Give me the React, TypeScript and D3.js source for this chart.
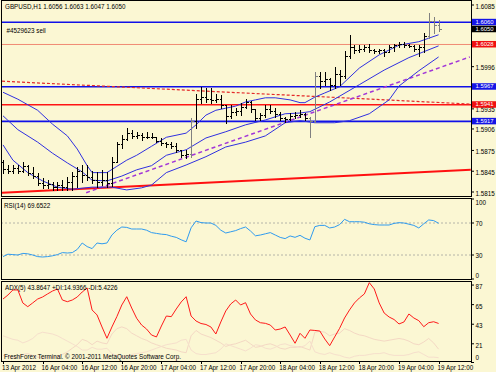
import { scaleLinear, line } from 'd3'

// GBPUSD H1 bars, index 0..88
const opens = [
	1.5858, 1.5848, 1.5846, 1.585, 1.5845, 1.5852, 1.5843, 1.5838, 1.5828, 1.5825,
	1.5826, 1.5822, 1.5825, 1.5822, 1.583, 1.5838, 1.5845, 1.584, 1.5836, 1.5833,
	1.583, 1.5832, 1.5828, 1.5858, 1.5884, 1.5892, 1.59, 1.5896, 1.5897, 1.5894,
	1.5895, 1.5894, 1.5889, 1.5886, 1.5884, 1.5882, 1.5876, 1.5868, 1.587, 1.5918,
	1.595, 1.5952, 1.595, 1.5948, 1.595, 1.594, 1.5925, 1.593, 1.5932, 1.5938,
	1.5945, 1.5935, 1.5922, 1.5926, 1.5935, 1.5932, 1.5928, 1.5922, 1.592, 1.5925,
	1.5926, 1.5928, 1.5922, 1.5918, 1.5982, 1.5975, 1.5978, 1.597, 1.5985, 1.5982,
	1.6012, 1.6025, 1.602, 1.6022, 1.6024, 1.602, 1.6018, 1.602, 1.6017, 1.6024,
	1.6027, 1.6028, 1.6027, 1.6026, 1.6022, 1.6024, 1.604, 1.6062, 1.6056,
]
const highs = [
	1.5861, 1.5854, 1.5854, 1.5854, 1.5858, 1.5854, 1.5851, 1.5842, 1.5835, 1.5832,
	1.583, 1.583, 1.5832, 1.5837, 1.5844, 1.5851, 1.5854, 1.5854, 1.5845, 1.5844,
	1.5847, 1.5844, 1.5865, 1.5887, 1.5897, 1.5907, 1.5904, 1.5901, 1.59, 1.5901,
	1.59, 1.5894, 1.5893, 1.5887, 1.5887, 1.5886, 1.5876, 1.5876, 1.5922, 1.5957,
	1.5966, 1.5965, 1.5965, 1.5957, 1.5955, 1.594, 1.594, 1.5936, 1.5943, 1.595,
	1.5947, 1.5935, 1.5929, 1.594, 1.594, 1.5937, 1.593, 1.5923, 1.5929, 1.593,
	1.5933, 1.5929, 1.5923, 1.5988, 1.5988, 1.5988, 1.598, 1.5995, 1.5991, 1.6019,
	1.6041, 1.6027, 1.6027, 1.6027, 1.6029, 1.6022, 1.6022, 1.6022, 1.6027, 1.6029,
	1.6031, 1.6031, 1.6029, 1.6027, 1.6027, 1.6045, 1.6074, 1.6067, 1.6063,
]
const lows = [
	1.5842, 1.5842, 1.5842, 1.5842, 1.5844, 1.584, 1.5835, 1.5825, 1.5821, 1.5821,
	1.5818, 1.5818, 1.5818, 1.5818, 1.5818, 1.5822, 1.583, 1.5832, 1.5828, 1.5822,
	1.5825, 1.5822, 1.5824, 1.5858, 1.5878, 1.589, 1.5893, 1.5893, 1.589, 1.5893,
	1.5893, 1.5887, 1.5883, 1.588, 1.5878, 1.5873, 1.5865, 1.5864, 1.5865, 1.5907,
	1.5943, 1.5945, 1.5943, 1.5945, 1.5936, 1.5914, 1.5922, 1.5926, 1.5926, 1.5936,
	1.593, 1.5919, 1.5919, 1.5923, 1.5929, 1.5923, 1.5919, 1.5916, 1.5919, 1.5922,
	1.5923, 1.5919, 1.5894, 1.5916, 1.5965, 1.5969, 1.5962, 1.5965, 1.5969, 1.598,
	1.6009, 1.6015, 1.6017, 1.6019, 1.6017, 1.6015, 1.6015, 1.6012, 1.6017, 1.6019,
	1.6024, 1.6024, 1.6024, 1.6019, 1.6012, 1.6017, 1.6038, 1.6044, 1.6047,
]
const closes = [
	1.5848, 1.5846, 1.585, 1.5845, 1.5852, 1.5843, 1.5838, 1.5828, 1.5825, 1.5826,
	1.5822, 1.5825, 1.5822, 1.583, 1.5838, 1.5845, 1.584, 1.5836, 1.5833, 1.583,
	1.5832, 1.5828, 1.5858, 1.5884, 1.5892, 1.59, 1.5896, 1.5897, 1.5894, 1.5895,
	1.5894, 1.5889, 1.5886, 1.5884, 1.5882, 1.5876, 1.5868, 1.587, 1.5918, 1.595,
	1.5952, 1.595, 1.5948, 1.595, 1.594, 1.5925, 1.593, 1.5932, 1.5938, 1.5945,
	1.5935, 1.5922, 1.5926, 1.5935, 1.5932, 1.5928, 1.5922, 1.592, 1.5925, 1.5926,
	1.5928, 1.5922, 1.5918, 1.5982, 1.5975, 1.5978, 1.597, 1.5985, 1.5982, 1.6012,
	1.6025, 1.602, 1.6022, 1.6024, 1.602, 1.6018, 1.602, 1.6017, 1.6024, 1.6027,
	1.6028, 1.6027, 1.6026, 1.6022, 1.6024, 1.604, 1.6062, 1.6056, 1.605,
]
const greyBars = [38, 62, 63, 86, 87, 88]

const maFast: [number, number][] = [
	[0, 1.5959], [3, 1.5949], [7, 1.5933], [10, 1.5913], [13, 1.5896], [15, 1.5877], [17, 1.5853],
	[18, 1.5843], [21, 1.5843], [23, 1.5852], [25, 1.5861], [27, 1.5868], [30, 1.5881], [33, 1.5894],
	[37, 1.59], [39, 1.5912], [41, 1.5926], [43, 1.5933], [45, 1.5936], [47, 1.5939], [49, 1.5945],
	[51, 1.5948], [53, 1.5951], [55, 1.5951], [58, 1.5948], [60, 1.5944], [61, 1.5944], [63, 1.5952],
	[65, 1.5958], [68, 1.5967], [72, 1.5994], [76, 1.6013], [80, 1.6027], [84, 1.6032], [86, 1.6037],
	[88, 1.6042],
]
const maMid: [number, number][] = [
	[0, 1.5925], [3, 1.5905], [7, 1.5887], [10, 1.5871], [13, 1.5857], [16, 1.5844], [18, 1.5832],
	[21, 1.5831], [24, 1.5838], [27, 1.5847], [30, 1.5853], [33, 1.5868], [37, 1.5876], [41, 1.5893],
	[45, 1.5902], [49, 1.5912], [53, 1.5919], [57, 1.5928], [60, 1.5929], [62, 1.5931], [66, 1.5945],
	[72, 1.597], [77, 1.5991], [82, 1.6009], [88, 1.6026],
]
const maSlow: [number, number][] = [
	[0, 1.5883], [2, 1.5861], [5, 1.5843], [8, 1.5831], [11, 1.5822], [14, 1.5819], [18, 1.5822],
	[22, 1.5822], [25, 1.5818], [28, 1.5821], [30, 1.5825], [33, 1.5843], [37, 1.5854], [41, 1.5866],
	[45, 1.588], [49, 1.5887], [53, 1.5896], [57, 1.5915], [60, 1.5918], [63, 1.5915], [67, 1.5915],
	[70, 1.5918], [74, 1.5928], [78, 1.5948], [80, 1.5968], [84, 1.599], [88, 1.601],
]

// trendlines: [bar1, price1, bar2, price2]
const supportLine = [-0.2, 1.5814, 94.5, 1.5847]
const resistanceLine = [-0.2, 1.5975, 94.5, 1.5942]
const channelLine = [16.8, 1.5814, 94.3, 1.601]

const blueLevels = [1.606, 1.5967, 1.5917]
const orderLevel = 1.6028
const redLevel = 1.5941

const priceTicks = [1.6085, 1.5996, 1.5935, 1.5906, 1.5875, 1.5845, 1.5815]
const priceBoxes = [
	{ value: 1.606, label: '1.6060', fill: '#1414e6' },
	{ value: 1.605, label: '1.6050', fill: '#000000' },
	{ value: 1.6028, label: '1.6028', fill: '#f01010' },
	{ value: 1.5967, label: '1.5967', fill: '#1414e6' },
	{ value: 1.5941, label: '1.5941', fill: '#f01010' },
	{ value: 1.5917, label: '1.5917', fill: '#1414e6' },
]

const rsi = [
	28, 31, 30.5, 30, 32, 31.5, 30, 28, 27.5, 28,
	29, 30.5, 33, 32.5, 33, 37, 45, 40.5, 38, 45,
	44, 45, 55, 61, 65, 64.5, 62.5, 62.5, 62.5, 61,
	58, 57, 56, 55.5, 53.5, 52, 49, 46.5, 64, 72.5,
	70.5, 70, 70, 67, 61, 57.5, 59, 60.5, 63, 65,
	60, 54, 55, 56.5, 58, 55, 52, 50.5, 53.8, 52.1,
	54.6, 51, 48.8, 65.4, 67, 67, 63.8, 65, 68, 74.6,
	71.6, 71.6, 71.6, 71, 69, 68, 67.5, 67.5, 67.5, 69.5,
	70.4, 70, 68.5, 67, 63.8, 69, 73.8, 73, 69.65,
]
const rsiLevels = [70, 30]
const rsiTicks = [100, 70, 30, 0]

const adx = [
	71.3, 75.8, 81.5, 81.5, 66.9, 62.7, 66.9, 71.3, 73.6, 77,
	80.3, 82.6, 70.2, 68.3, 70.2, 73.6, 79.2, 83.7, 59, 53.4,
	39.9, 27.2, 39.9, 51.5, 64.6, 73.9, 61.2, 49.7, 42.1, 37.6,
	30.9, 28.7, 41, 52.2, 51.5, 60.1, 68, 73.9, 52.2, 46.6,
	43.8, 42.7, 39.9, 32, 45.5, 57.9, 65.7, 70.2, 64.6, 67.2,
	54.5, 47.8, 44.7, 44, 42.1, 36.5, 37.6, 39.9, 30.9, 21.6,
	32.8, 27.2, 36.5, 36, 35.4, 26.4, 18.9, 28.7, 38.4, 50,
	59, 66.9, 72.5, 77, 89.7, 82.6, 66.9, 55.6, 51.1, 48.3,
	43.3, 45.5, 54.5, 50, 47, 40.2, 44.7, 45.8, 43.86,
]
const plusDi = [
	8, 7, 6, 6, 9, 10, 8, 6, 5, 6,
	6, 7, 9, 12, 16, 20, 26, 24, 20, 24,
	22, 21, 32, 38, 40, 38, 33, 30, 27, 25,
	22, 20, 18, 16, 15, 14, 12, 11, 30, 36,
	32, 30, 28, 25, 22, 18, 20, 21, 23, 25,
	21, 17, 18, 20, 21, 19, 16, 15, 17, 17,
	18, 16, 14, 34, 35, 34, 30, 32, 33, 38,
	36, 33, 31, 30, 28, 26, 25, 24, 25, 26,
	27, 26, 24, 21, 20, 23, 27, 22, 14.94,
]
const minusDi = [
	30, 28, 26, 25, 22, 24, 27, 32, 34, 33,
	32, 30, 27, 24, 21, 18, 14, 14, 17, 15,
	15, 16, 10, 8, 7, 7, 9, 10, 11, 12,
	14, 16, 18, 20, 21, 22, 25, 26, 14, 10,
	9, 9, 10, 11, 15, 21, 19, 17, 15, 13,
	16, 20, 19, 16, 15, 17, 20, 21, 19, 18,
	17, 19, 24, 12, 10, 9, 11, 9, 8, 6,
	5, 7, 8, 8, 9, 10, 10, 11, 9, 8,
	8, 8, 9, 11, 12, 9, 6, 6, 5.42,
]
const adxTicks = [87, 65, 43, 21, 0]

const timeTicks = [
	{ bar: 0, label: '13 Apr 2012' },
	{ bar: 8, label: '16 Apr 04:00' },
	{ bar: 16, label: '16 Apr 12:00' },
	{ bar: 24, label: '16 Apr 20:00' },
	{ bar: 32, label: '17 Apr 04:00' },
	{ bar: 40, label: '17 Apr 12:00' },
	{ bar: 48, label: '17 Apr 20:00' },
	{ bar: 56, label: '18 Apr 04:00' },
	{ bar: 64, label: '18 Apr 12:00' },
	{ bar: 72, label: '18 Apr 20:00' },
	{ bar: 80, label: '19 Apr 04:00' },
	{ bar: 88, label: '19 Apr 12:00' },
]

export default function App() {
	const width = 496
	const height = 372
	const left = 1
	const right = 471
	const main = { top: 0.5, bottom: 196 }
	const rsiPanel = { top: 198, bottom: 279 }
	const adxPanel = { top: 281, bottom: 361 }
	const font = "'Liberation Sans', Arial, sans-serif"
	const fs = 6.3

	const x = scaleLinear().domain([0, 88]).range([3, 438.6])
	const y = scaleLinear().domain([1.5815, 1.6085]).range([192, 5])
	const yR = scaleLinear().domain([0, 100]).range([279, 199])
	const yA = scaleLinear().domain([0, 92]).range([362.5, 280.6])

	const px = (i: number) => Math.round(x(i)) + 0.5

	const maLine = line<[number, number]>()
		.x((d) => x(d[0]))
		.y((d) => y(d[1]))
	const rsiLine = line<number>()
		.x((_, i) => x(i))
		.y((d) => yR(d))
	const adxLine = line<number>()
		.x((_, i) => x(i))
		.y((d) => yA(d))

	const trend = (t: number[]) => ({ x1: x(t[0]), y1: y(t[1]), x2: x(t[2]), y2: y(t[3]) })

	return (
		<svg
			width={width}
			height={height}
			style={{ position: 'fixed', left: 0, top: 0, background: '#fbf7d3' }}
			fontFamily={font}
		>
			<defs>
				<clipPath id="clip-main">
					<rect x={left} y={main.top} width={right - left} height={main.bottom - main.top} />
				</clipPath>
				<clipPath id="clip-rsi">
					<rect x={left} y={rsiPanel.top} width={right - left} height={rsiPanel.bottom - rsiPanel.top} />
				</clipPath>
				<clipPath id="clip-adx">
					<rect x={left} y={adxPanel.top} width={right - left} height={adxPanel.bottom - adxPanel.top} />
				</clipPath>
			</defs>
			<rect width={width} height={height} fill="#fbf7d3" />

			{/* main price window */}
			<g clipPath="url(#clip-main)">
				{blueLevels.map((v) => (
					<line key={v} x1={left} x2={right} y1={y(v)} y2={y(v)} stroke="#1010e8" strokeWidth={1.6} />
				))}
				<line x1={left} x2={right} y1={y(orderLevel)} y2={y(orderLevel)} stroke="#f08a74" strokeWidth={1} />
				<line x1={left} x2={right} y1={y(redLevel)} y2={y(redLevel)} stroke="#ff1414" strokeWidth={1.5} />
				<line {...trend(resistanceLine)} stroke="#e42a2a" strokeWidth={1.2} strokeDasharray="3,2" />
				<line {...trend(supportLine)} stroke="#ff1010" strokeWidth={2} />
				<line {...trend(channelLine)} stroke="#a236d8" strokeWidth={1.5} strokeDasharray="4,3" />

				{[maFast, maMid, maSlow].map((pts, k) => (
					<path key={k} d={maLine(pts) ?? ''} fill="none" stroke="#3030e0" strokeWidth={1} />
				))}

				<g shapeRendering="crispEdges">
					{highs.map((hi, i) => {
						const cx = px(i)
						const color = greyBars.includes(i) ? '#808080' : '#000000'
						return (
							<g key={i} stroke={color} strokeWidth={1}>
								<line x1={cx} x2={cx} y1={y(hi)} y2={y(lows[i]) + 1} />
								<line x1={cx - 2} x2={cx} y1={Math.round(y(opens[i])) + 0.5} y2={Math.round(y(opens[i])) + 0.5} />
								<line x1={cx} x2={cx + 2} y1={Math.round(y(closes[i])) + 0.5} y2={Math.round(y(closes[i])) + 0.5} />
							</g>
						)
					})}
				</g>
			</g>
			<text x={5} y={6.5} fontSize={fs} dominantBaseline="central" fill="#000">
				GBPUSD,H1  1.6056 1.6063 1.6047 1.6050
			</text>
			<text x={6.5} y={30} fontSize={fs} dominantBaseline="central" fill="#000">
				#4529623 sell
			</text>

			{/* RSI window */}
			<g clipPath="url(#clip-rsi)">
				{rsiLevels.map((v) => (
					<line key={v} x1={left} x2={right} y1={yR(v)} y2={yR(v)} stroke="#b4b4a8" strokeDasharray="2,2" />
				))}
				<path d={rsiLine(rsi) ?? ''} fill="none" stroke="#2f9bef" strokeWidth={1} />
			</g>
			<text x={4} y={205} fontSize={fs} dominantBaseline="central" fill="#000">
				RSI(14) 69.6522
			</text>

			{/* ADX window */}
			<g clipPath="url(#clip-adx)">
				<path d={adxLine(plusDi) ?? ''} fill="none" stroke="#f4d8c4" strokeWidth={1} />
				<path d={adxLine(minusDi) ?? ''} fill="none" stroke="#f6dfcc" strokeWidth={1} />
				<path d={adxLine(adx) ?? ''} fill="none" stroke="#ff1a1a" strokeWidth={1} />
			</g>
			<text x={5} y={287} fontSize={fs} dominantBaseline="central" fill="#000">
				ADX(5) 43.8647 +DI:14.9366 -DI:5.4226
			</text>
			<text x={4} y={356.5} fontSize={fs} dominantBaseline="central" fill="#000">
				FreshForex Terminal. © 2001-2011 MetaQuotes Software Corp.
			</text>

			{/* panel frames */}
			<g fill="none" stroke="#000" strokeWidth={1} shapeRendering="crispEdges">
				<rect x={left + 0.5} y={main.top} width={right - left} height={main.bottom - main.top} />
				<rect x={left + 0.5} y={rsiPanel.top + 0.5} width={right - left} height={rsiPanel.bottom - rsiPanel.top} />
				<rect x={left + 0.5} y={adxPanel.top + 0.5} width={right - left} height={adxPanel.bottom - adxPanel.top} />
			</g>

			{/* price scale */}
			{priceTicks.map((v) => (
				<g key={v}>
					<line x1={right} x2={right + 3} y1={y(v)} y2={y(v)} stroke="#000" />
					<text x={475.5} y={y(v) + 1} fontSize={fs} dominantBaseline="central" fill="#000">
						{v.toFixed(4)}
					</text>
				</g>
			))}
			{priceBoxes.map((b) => (
				<g key={b.label}>
					<rect x={472} y={y(b.value) - 3.5} width={24} height={6.5} fill={b.fill} />
					<text x={475.5} y={y(b.value) - 0.3} fontSize={5.9} dominantBaseline="central" fill="#fff">
						{b.label}
					</text>
				</g>
			))}

			{/* RSI scale */}
			{rsiTicks.map((v) => (
				<g key={v}>
					<line x1={right} x2={right + 3} y1={yR(v)} y2={yR(v)} stroke="#000" />
					<text
						x={475.5}
						y={Math.min(Math.max(yR(v), 202.5), 275.5)}
						fontSize={fs}
						dominantBaseline="central"
						fill="#000"
					>
						{v}
					</text>
				</g>
			))}

			{/* ADX scale */}
			{adxTicks.map((v) => (
				<g key={v}>
					<line x1={right} x2={right + 3} y1={yA(v)} y2={yA(v)} stroke="#000" />
					<text
						x={475.5}
						y={Math.min(Math.max(yA(v) + 1.5, 284.5), 357)}
						fontSize={fs}
						dominantBaseline="central"
						fill="#000"
					>
						{v}
					</text>
				</g>
			))}

			{/* time scale */}
			{timeTicks.map((t) => (
				<g key={t.bar}>
					<line x1={px(t.bar)} x2={px(t.bar)} y1={adxPanel.bottom} y2={adxPanel.bottom + 3} stroke="#000" />
					<text x={x(t.bar) - 1} y={367.3} fontSize={fs} dominantBaseline="central" fill="#000">
						{t.label}
					</text>
				</g>
			))}
		</svg>
	)
}
